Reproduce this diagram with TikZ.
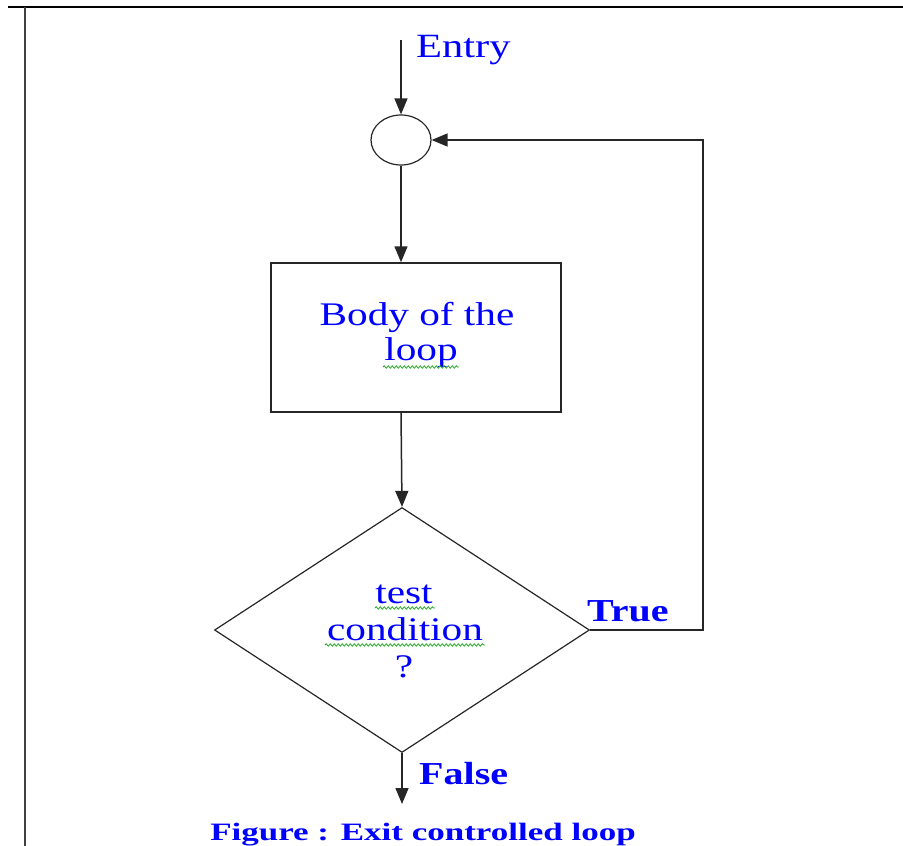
\documentclass[tikz,border=0pt]{standalone}
\usepackage{fontspec}
\setmainfont{Liberation Serif}
\newfontfamily\wfont[FakeStretch=1.25]{Liberation Serif}
\newfontfamily\capfont[FakeStretch=1.4]{Liberation Serif}
\usetikzlibrary{arrows.meta,shapes.geometric,decorations.pathmorphing}
\definecolor{txtblue}{RGB}{0,0,255}
\definecolor{squiggreen}{RGB}{40,170,40}
\tikzset{
  ln/.style={line width=1.5pt, draw=black!85},
  arr/.style={ln, -{Triangle[length=16pt,width=13pt]}},
  lbl/.style={text=txtblue, inner sep=0pt, font=\wfont\fontsize{33}{37.5}\selectfont},
  blbl/.style={text=txtblue, inner sep=0pt, font=\wfont\bfseries\fontsize{32}{36}\selectfont},
  squig/.style={draw=squiggreen, line width=0.8pt, decorate, decoration={snake, amplitude=1.2pt, segment length=4pt}},
}
\begin{document}
\begin{tikzpicture}[x=1pt,y=-1pt]
\useasboundingbox (0,0) rectangle (903,846);
% page frame
\draw[line width=1.5pt] (8,7) -- (903,7);
\draw[line width=2.2pt, black!75] (25,7) -- (25,846);
% nodes
\coordinate (entry) at (401,40);
\node[draw=black!85, line width=1.2pt, ellipse, minimum width=60pt, minimum height=50pt, inner sep=0pt] (circ) at (401,140) {};
\node[draw=black!85, line width=1.5pt, rectangle, minimum width=290pt, minimum height=149pt, inner sep=0pt] (body) at (416,337.5) {};
\node[draw=black!85, line width=1.2pt, diamond, minimum width=375pt, minimum height=245pt, inner sep=0pt] (dec) at (402,630) {};
\coordinate (loopc) at (703,140);
\coordinate (exitc) at (402,804);
% texts
\node[lbl, font=\wfont\fontsize{34}{37}\selectfont, anchor=base west] (entrylbl) at (416,57) {Entry};
\node[lbl, anchor=base] (bodyA) at (417,325) {Body of the};
\node[lbl, anchor=base] (bodyB) at (421,360) {loop};
\node[lbl, anchor=base] (testA) at (404,603) {test};
\node[lbl, anchor=base] (testB) at (405,640) {condition};
\node[lbl, anchor=base] (testC) at (404,677) {?};
\node[blbl, anchor=base west] (truelbl) at (587,621) {True};
\node[blbl, anchor=base west] (falselbl) at (419,784) {False};
\node[text=txtblue, inner sep=0pt, anchor=base, font=\capfont\bfseries\fontsize{25}{28}\selectfont] (caption) at (423,840) {Figure : Exit controlled loop};
% spell-check squiggles
\coordinate (sqA1) at (383,367); \coordinate (sqA2) at (459,367);
\coordinate (sqB1) at (375,608); \coordinate (sqB2) at (435,608);
\coordinate (sqC1) at (325,645); \coordinate (sqC2) at (485,645);
\draw[squig] (sqA1) -- (sqA2);
\draw[squig] (sqB1) -- (sqB2);
\draw[squig] (sqC1) -- (sqC2);
% connectors
\draw[arr] (entry) -- (circ.north);
\draw[arr] (circ.south) -- (circ.south |- body.north);
\draw[arr] (circ.south |- body.south) -- (dec.north);
\draw[arr] (dec.east) -| (loopc) -- (circ.east);
\draw[arr] (dec.south) -- (exitc);
\end{tikzpicture}
\end{document}
